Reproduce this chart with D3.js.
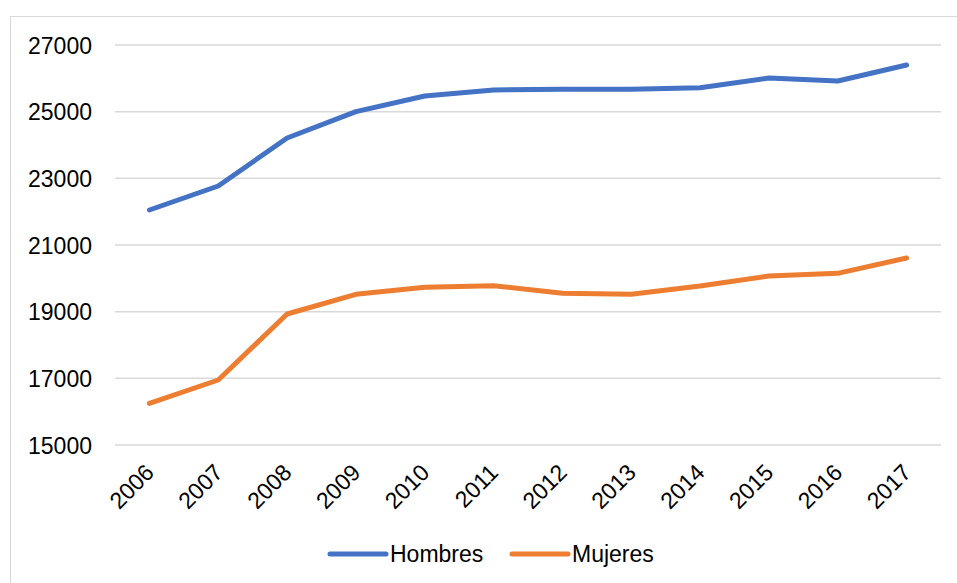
<!DOCTYPE html>
<html>
<head>
<meta charset="utf-8">
<script src="https://cdn.jsdelivr.net/npm/d3@7/dist/d3.min.js"></script>
<style>
  html, body { margin: 0; padding: 0; background: #fff; }
  svg { display: block; font-family: "Liberation Sans", Arial, sans-serif; }
</style>
</head>
<body>
<svg id="chart" width="957" height="583"></svg>
<script>
// Annual figures by sex, 2006–2017
const years = ["2006","2007","2008","2009","2010","2011","2012","2013","2014","2015","2016","2017"];
const hombres = [22050, 22770, 24210, 25000, 25470, 25650, 25670, 25670, 25720, 26010, 25920, 26400];
const mujeres = [16250, 16950, 18930, 19520, 19730, 19780, 19550, 19520, 19770, 20070, 20150, 20610];
const yTicks = [15000, 17000, 19000, 21000, 23000, 25000, 27000];
const seriesNames = ["Hombres", "Mujeres"];
const seriesColors = ["#4472C4", "#ED7D31"];

const svg = d3.select("#chart");
const W = 957, H = 583;

// chart-area frame
svg.append("rect")
  .attr("x", 10.5).attr("y", 16.5)
  .attr("width", W + 20).attr("height", H + 20)
  .attr("fill", "#fff").attr("stroke", "#D9D9D9").attr("stroke-width", 1);

const plot = { left: 115, right: 941, top: 45, bottom: 445 };

const x = d3.scaleBand().domain(years).range([plot.left, plot.right]);
const y = d3.scaleLinear().domain([15000, 27000]).range([plot.bottom, plot.top]);

// horizontal gridlines
svg.append("g")
  .selectAll("line")
  .data(yTicks)
  .join("line")
  .attr("x1", plot.left).attr("x2", plot.right)
  .attr("y1", d => y(d)).attr("y2", d => y(d))
  .attr("stroke", "#D9D9D9").attr("stroke-width", 1.5);

// y axis labels
const yAxis = d3.axisLeft(y).tickValues(yTicks).tickSize(0).tickPadding(0).tickFormat(d3.format("d"));
const yg = svg.append("g").attr("transform", `translate(92,0)`).call(yAxis);
yg.select(".domain").remove();
yg.selectAll("text")
  .attr("font-size", 23).attr("fill", "#000")
  .attr("font-family", "Liberation Sans, Arial, sans-serif")
  .attr("dy", "0.35em");

// x axis labels, rotated
const xAxis = d3.axisBottom(x).tickSize(0).tickPadding(0);
const xg = svg.append("g").attr("transform", `translate(0,${plot.bottom})`).call(xAxis);
xg.select(".domain").remove();
xg.selectAll("text")
  .attr("font-size", 23).attr("fill", "#000")
  .attr("font-family", "Liberation Sans, Arial, sans-serif")
  .attr("text-anchor", "end")
  .attr("dy", null)
  .attr("y", 0)
  .attr("transform", "translate(6,29) rotate(-45)");

// series lines
const cx = d => x(d) + x.bandwidth() / 2;
const line = d3.line().x((d, i) => cx(years[i])).y(d => y(d));
[hombres, mujeres].forEach((vals, i) => {
  svg.append("path")
    .datum(vals)
    .attr("d", line)
    .attr("fill", "none")
    .attr("stroke", seriesColors[i])
    .attr("stroke-width", 5)
    .attr("stroke-linejoin", "round")
    .attr("stroke-linecap", "round");
});

// legend
const legendItems = [
  { name: seriesNames[0], color: seriesColors[0], x: 330 },
  { name: seriesNames[1], color: seriesColors[1], x: 512 }
];
const lg = svg.append("g");
legendItems.forEach(it => {
  lg.append("line")
    .attr("x1", it.x).attr("x2", it.x + 56)
    .attr("y1", 554).attr("y2", 554)
    .attr("stroke", it.color).attr("stroke-width", 5)
    .attr("stroke-linecap", "round");
  lg.append("text")
    .attr("x", it.x + 60).attr("y", 562)
    .attr("font-size", 23).attr("fill", "#000")
    .text(it.name);
});
</script>
</body>
</html>
